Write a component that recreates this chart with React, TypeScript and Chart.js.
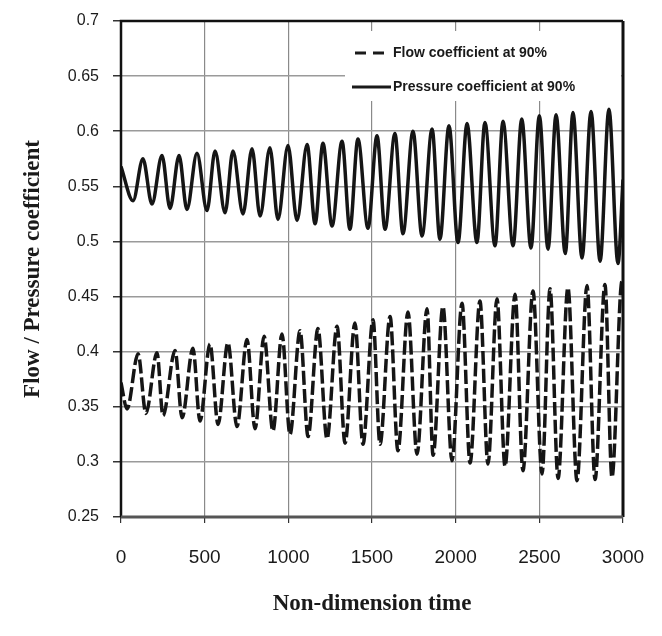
import React, { useEffect, useRef } from "react";
import { Chart, registerables } from "chart.js";

Chart.register(...registerables);

// Pressure coefficient (solid) — extrema
const pressureTime = [0, 72, 131, 185, 245, 293, 347, 394, 454, 514, 562, 622, 669, 729, 783, 831, 890, 938, 998, 1052, 1112, 1160, 1207, 1261, 1321, 1368, 1416, 1476, 1530, 1578, 1637, 1685, 1745, 1799, 1859, 1906, 1960, 2014, 2068, 2127, 2175, 2235, 2283, 2343, 2395, 2450, 2500, 2552, 2600, 2655, 2701, 2755, 2809, 2863, 2916, 2970, 3000];
const pressureValue = [0.568, 0.537, 0.575, 0.534, 0.578, 0.530, 0.578, 0.529, 0.580, 0.528, 0.582, 0.526, 0.582, 0.525, 0.584, 0.523, 0.585, 0.520, 0.587, 0.519, 0.588, 0.516, 0.589, 0.514, 0.591, 0.511, 0.593, 0.512, 0.596, 0.511, 0.598, 0.507, 0.600, 0.505, 0.602, 0.502, 0.605, 0.499, 0.607, 0.499, 0.608, 0.496, 0.609, 0.496, 0.611, 0.494, 0.614, 0.493, 0.615, 0.489, 0.617, 0.485, 0.618, 0.482, 0.620, 0.480, 0.556];

// Flow coefficient (dashed)
const flowTime = [0, 36, 102, 149, 215, 251, 323, 365, 430, 472, 532, 580, 639, 693, 753, 801, 855, 908, 962, 1010, 1070, 1118, 1177, 1231, 1291, 1339, 1398, 1446, 1506, 1548, 1608, 1655, 1715, 1769, 1829, 1865, 1924, 1978, 2038, 2086, 2145, 2193, 2247, 2295, 2355, 2402, 2462, 2516, 2564, 2612, 2671, 2725, 2785, 2833, 2892, 2934, 2994, 3000];
const flowValue = [0.372, 0.348, 0.398, 0.344, 0.399, 0.342, 0.401, 0.340, 0.403, 0.337, 0.407, 0.334, 0.408, 0.332, 0.411, 0.330, 0.414, 0.328, 0.416, 0.325, 0.419, 0.323, 0.421, 0.321, 0.423, 0.317, 0.426, 0.316, 0.429, 0.316, 0.432, 0.310, 0.436, 0.307, 0.439, 0.306, 0.441, 0.301, 0.444, 0.299, 0.446, 0.298, 0.448, 0.296, 0.452, 0.292, 0.455, 0.289, 0.457, 0.285, 0.458, 0.283, 0.460, 0.284, 0.461, 0.286, 0.464, 0.462];

const xTickValues = [0, 500, 1000, 1500, 2000, 2500, 3000];
const legendLabels = ["Flow coefficient at 90%", "Pressure coefficient at 90%"];
const xTitle = "Non-dimension time";
const yTitle = "Flow / Pressure coefficient";

const legendPlugin = {
  id: "customLegend",
  beforeDatasetsDraw(chart: any) {
    const ctx = chart.ctx;
    const a = chart.chartArea;
    ctx.save();
    ctx.fillStyle = "#ffffff";
    ctx.fillRect(a.left + 224, a.top + 10, a.right - a.left - 226, 70);
    ctx.strokeStyle = "#1a1a1a";
    ctx.lineWidth = 3;
    ctx.beginPath();
    ctx.setLineDash([11, 7]);
    ctx.moveTo(a.left + 234, a.top + 32);
    ctx.lineTo(a.left + 264, a.top + 32);
    ctx.stroke();
    ctx.setLineDash([]);
    ctx.beginPath();
    ctx.moveTo(a.left + 231, a.top + 66);
    ctx.lineTo(a.left + 270, a.top + 66);
    ctx.stroke();
    ctx.fillStyle = "#1a1a1a";
    ctx.font = "bold 14px 'Liberation Sans', Arial, sans-serif";
    ctx.textBaseline = "middle";
    ctx.textAlign = "left";
    ctx.fillText(legendLabels[0], a.left + 272, a.top + 32);
    ctx.fillText(legendLabels[1], a.left + 272, a.top + 66);
    ctx.restore();
  },
};

const framePlugin = {
  id: "frame",
  afterDatasetsDraw(chart: any) {
    const ctx = chart.ctx;
    const a = chart.chartArea;
    ctx.save();
    ctx.strokeStyle = "#111";
    ctx.lineWidth = 2.5;
    ctx.beginPath();
    ctx.moveTo(a.left, a.bottom);
    ctx.lineTo(a.left, a.top);
    ctx.lineTo(a.right, a.top);
    ctx.stroke();
    ctx.lineWidth = 3;
    ctx.beginPath();
    ctx.moveTo(a.right, a.top);
    ctx.lineTo(a.right, a.bottom);
    ctx.stroke();
    ctx.strokeStyle = "#555";
    ctx.lineWidth = 3;
    ctx.beginPath();
    ctx.moveTo(a.left, a.bottom);
    ctx.lineTo(a.right, a.bottom);
    ctx.stroke();
    ctx.restore();
  },
};

export default function App() {
  const ref = useRef<HTMLCanvasElement>(null);
  useEffect(() => {
    if (!ref.current) return;
    const chart = new Chart(ref.current, {
      type: "line",
      data: {
        datasets: [
          {
            label: legendLabels[1],
            data: pressureTime.map((t, i) => ({ x: t, y: pressureValue[i] })),
            borderColor: "#151515",
            borderWidth: 3.5,
            pointRadius: 0,
            cubicInterpolationMode: "monotone",
            fill: false,
          },
          {
            label: legendLabels[0],
            data: flowTime.map((t, i) => ({ x: t, y: flowValue[i] })),
            borderColor: "#151515",
            borderWidth: 3.5,
            borderDash: [14, 4],
            pointRadius: 0,
            cubicInterpolationMode: "monotone",
            fill: false,
          },
        ],
      },
      options: {
        animation: false,
        responsive: true,
        maintainAspectRatio: false,
        layout: { padding: { top: 21, right: 39, left: 0, bottom: 0 } },
        plugins: { legend: { display: false }, tooltip: { enabled: false } },
        scales: {
          x: {
            type: "linear",
            min: 0,
            max: 3000,
            afterBuildTicks: (s: any) => { s.ticks = xTickValues.map((v) => ({ value: v })); },
            ticks: {
              color: "#1a1a1a",
              font: { family: "'Liberation Sans', Arial, sans-serif", size: 19 },
              padding: 23,
              maxRotation: 0,
              callback: (v: any) => String(v),
            },
            grid: { color: "#8a8a8a", lineWidth: 1.2, tickLength: 6, tickColor: "#333" },
            border: { display: false },
            title: {
              display: true,
              text: xTitle,
              color: "#1a1a1a",
              font: { family: "'Liberation Serif', 'DejaVu Serif', serif", size: 23, weight: "bold" },
              padding: { top: 0, bottom: 18 },
            },
            afterFit: (s: any) => { s.height = 119; s.paddingLeft = 0; s.paddingRight = 0; },
          },
          y: {
            type: "linear",
            min: 0.25,
            max: 0.7,
            ticks: {
              stepSize: 0.05,
              color: "#1a1a1a",
              font: { family: "'Liberation Sans', Arial, sans-serif", size: 16 },
              padding: 14,
              callback: (v: any) => String(+Number(v).toFixed(2)),
            },
            grid: { color: "#9a9a9a", lineWidth: 1.5, tickLength: 8, tickColor: "#333" },
            border: { display: false },
            title: {
              display: true,
              text: yTitle,
              color: "#1a1a1a",
              font: { family: "'Liberation Serif', 'DejaVu Serif', serif", size: 23, weight: "bold" },
              padding: { top: 19, bottom: 0 },
            },
            afterFit: (s: any) => { s.width = 121; s.paddingTop = 0; s.paddingBottom = 0; },
          },
        },
      },
      plugins: [legendPlugin, framePlugin],
    });
    return () => chart.destroy();
  }, []);
  return (
    <div style={{ position: "fixed", left: 0, top: 0, width: 662, height: 636, background: "#fff" }}>
      <canvas ref={ref} />
    </div>
  );
}
